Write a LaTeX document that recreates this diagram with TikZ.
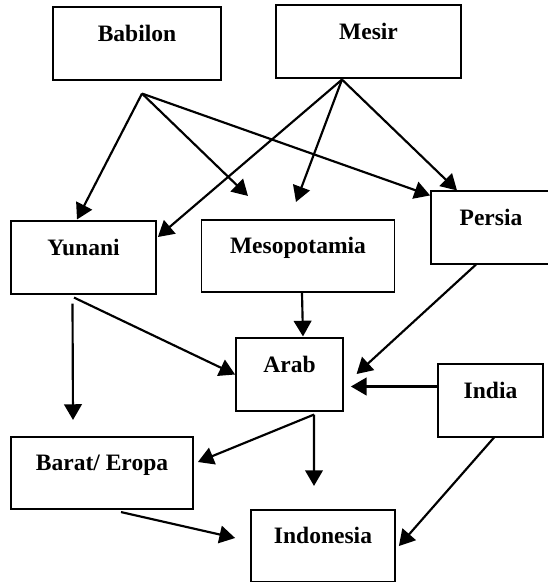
\documentclass[tikz,border=0pt]{standalone}
\usepackage{fontspec}
\setmainfont{Liberation Serif}
\usetikzlibrary{arrows.meta,calc}
\begin{document}
\begin{tikzpicture}[x=0.51pt,y=-0.51pt,
  box/.style={draw, line width=0.9pt, inner sep=0pt,
    font=\fontsize{12}{14}\selectfont\bfseries,
    text height=17.3pt, text depth=19.6pt, minimum width=#1*0.51pt},
  arr/.style={-{Triangle[length=8pt,width=9pt]}, line width=1.1pt}]
\useasboundingbox (0,0) rectangle (548,582);
\node[box=168] (babilon) at (137,43.5) {Babilon};
\node[box=185] (mesir) at (368.5,41.5) {Mesir};
\node[box=120] (persia) at (491,227.5) {Persia};
\node[box=145] (yunani) at (83.5,257.5) {Yunani};
\node[box=193] (meso) at (298,256) {Mesopotamia};
\node[box=107] (arab) at (289.5,374.5) {Arab};
\node[box=105] (india) at (490.5,400.5) {India};
\node[box=182] (barat) at (102,473) {Barat/ Eropa};
\node[box=144] (indonesia) at (323,546) {Indonesia};
\coordinate (babfan) at ($(babilon.south)+(5,13)$);
\coordinate (mesfan) at ($(mesir.south)+(-26.5,1)$);
\draw[arr] (babfan) -- ($(yunani.north)+(-6.5,-1)$);
\draw[arr] (babfan) -- ($(meso.north)+(-50,-23)$);
\draw[arr] (babfan) -- ($(persia.north west)+(0,5)$);
\draw[arr] (mesfan) -- ($(yunani.east)+(1,-20.5)$);
\draw[arr] (mesfan) -- ($(meso.north)+(-2,-17)$);
\draw[arr] (mesfan) -- ($(persia.north)+(-34,0)$);
\draw[arr] ($(yunani.south)+(-9.5,3)$) -- (arab.west);
\draw[arr] ($(yunani.south)+(-11,9)$) -- ($(barat.north)+(-29,-16)$);
\draw[arr] ($(meso.south)+(4,0)$) -- ($(arab.north)+(13.5,-1)$);
\draw[arr] ($(persia.south)+(-15,0)$) -- ($(arab.east)+(12.7,-0.5)$);
\draw[arr] ($(india.west)+(0,-14)$) -- ($(arab.east)+(7,12)$);
\draw[arr] ($(arab.south)+(24.5,3)$) -- ($(barat.east)+(4,-11)$);
\draw[arr] ($(arab.south)+(24.5,3)$) -- ($(indonesia.north)+(-9,-23)$);
\draw[arr] ($(barat.south)+(19,2)$) -- ($(indonesia.west)+(-15,-8)$);
\draw[arr] ($(india.south)+(3.5,0)$) -- ($(indonesia.east)+(3,0)$);
\end{tikzpicture}
\end{document}
